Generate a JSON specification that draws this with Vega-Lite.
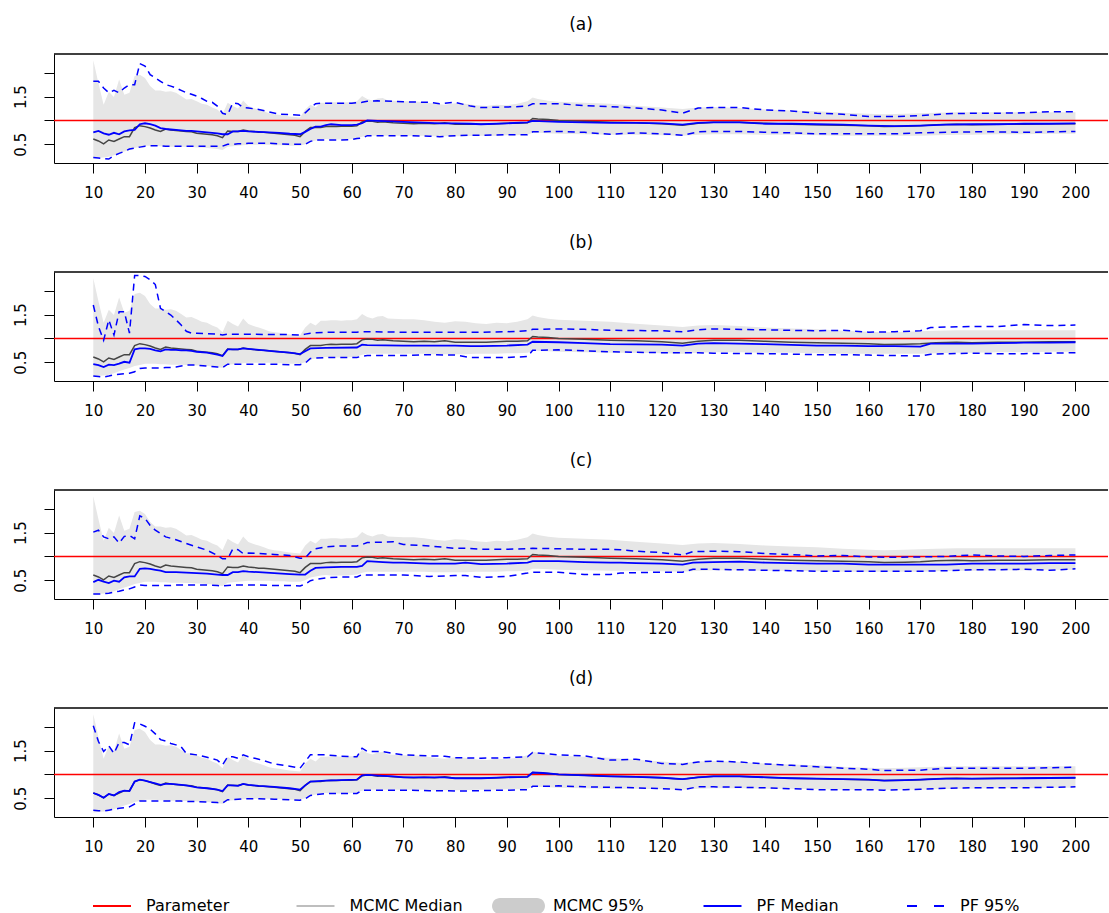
{
"$schema": "https://vega.github.io/schema/vega-lite/v6.json",
"background": "white",
"padding": {"top": 16, "left": 9, "right": 0, "bottom": 0},
"datasets": {
"param": [{"value": 1}],
"mcmc": [
{"t":10,"lo":0.20,"med":0.61,"hi":2.26},{"t":11,"lo":0.21,"med":0.57,"hi":1.78},{"t":12,"lo":0.22,"med":0.51,"hi":1.33},{"t":13,"lo":0.24,"med":0.59,"hi":1.60},{"t":14,"lo":0.27,"med":0.56,"hi":1.49},{"t":15,"lo":0.31,"med":0.61,"hi":1.86},{"t":16,"lo":0.35,"med":0.66,"hi":1.54},{"t":17,"lo":0.38,"med":0.66,"hi":1.58},{"t":18,"lo":0.42,"med":0.85,"hi":1.93},{"t":19,"lo":0.44,"med":0.89,"hi":1.96},
{"t":20,"lo":0.47,"med":0.87,"hi":1.89},{"t":21,"lo":0.47,"med":0.84,"hi":1.72},{"t":22,"lo":0.47,"med":0.80,"hi":1.63},{"t":23,"lo":0.46,"med":0.77,"hi":1.63},{"t":24,"lo":0.46,"med":0.82,"hi":1.60},{"t":25,"lo":0.45,"med":0.80,"hi":1.61},{"t":26,"lo":0.45,"med":0.79,"hi":1.58},{"t":27,"lo":0.45,"med":0.78,"hi":1.51},{"t":28,"lo":0.44,"med":0.77,"hi":1.44},{"t":29,"lo":0.44,"med":0.76,"hi":1.45},
{"t":30,"lo":0.43,"med":0.73,"hi":1.40},{"t":31,"lo":0.43,"med":0.72,"hi":1.35},{"t":32,"lo":0.42,"med":0.71,"hi":1.33},{"t":33,"lo":0.41,"med":0.70,"hi":1.27},{"t":34,"lo":0.40,"med":0.68,"hi":1.23},{"t":35,"lo":0.38,"med":0.64,"hi":1.13},{"t":36,"lo":0.45,"med":0.78,"hi":1.37},{"t":37,"lo":0.46,"med":0.77,"hi":1.30},{"t":38,"lo":0.47,"med":0.77,"hi":1.25},{"t":39,"lo":0.48,"med":0.80,"hi":1.42},
{"t":40,"lo":0.49,"med":0.78,"hi":1.30},{"t":41,"lo":0.49,"med":0.77,"hi":1.26},{"t":42,"lo":0.49,"med":0.75,"hi":1.23},{"t":43,"lo":0.49,"med":0.75,"hi":1.19},{"t":44,"lo":0.49,"med":0.74,"hi":1.15},{"t":45,"lo":0.48,"med":0.73,"hi":1.13},{"t":46,"lo":0.48,"med":0.72,"hi":1.12},{"t":47,"lo":0.48,"med":0.71,"hi":1.10},{"t":48,"lo":0.47,"med":0.70,"hi":1.08},{"t":49,"lo":0.47,"med":0.69,"hi":1.07},
{"t":50,"lo":0.47,"med":0.66,"hi":1.06},{"t":51,"lo":0.50,"med":0.77,"hi":1.23},{"t":52,"lo":0.56,"med":0.85,"hi":1.33},{"t":53,"lo":0.58,"med":0.85,"hi":1.27},{"t":54,"lo":0.60,"med":0.85,"hi":1.37},{"t":55,"lo":0.61,"med":0.87,"hi":1.37},{"t":56,"lo":0.60,"med":0.88,"hi":1.38},{"t":57,"lo":0.60,"med":0.87,"hi":1.38},{"t":58,"lo":0.60,"med":0.88,"hi":1.37},{"t":59,"lo":0.60,"med":0.88,"hi":1.38},
{"t":60,"lo":0.61,"med":0.88,"hi":1.38},{"t":61,"lo":0.62,"med":0.89,"hi":1.40},{"t":62,"lo":0.66,"med":0.97,"hi":1.51},{"t":63,"lo":0.68,"med":0.99,"hi":1.45},{"t":64,"lo":0.68,"med":0.98,"hi":1.42},{"t":65,"lo":0.68,"med":0.96,"hi":1.46},{"t":66,"lo":0.68,"med":0.97,"hi":1.47},{"t":67,"lo":0.68,"med":0.96,"hi":1.42},{"t":68,"lo":0.68,"med":0.95,"hi":1.41},{"t":70,"lo":0.68,"med":0.94,"hi":1.40},
{"t":72,"lo":0.68,"med":0.93,"hi":1.40},{"t":74,"lo":0.68,"med":0.94,"hi":1.38},{"t":76,"lo":0.67,"med":0.93,"hi":1.35},{"t":78,"lo":0.67,"med":0.95,"hi":1.33},{"t":80,"lo":0.67,"med":0.92,"hi":1.36},{"t":82,"lo":0.67,"med":0.92,"hi":1.35},{"t":84,"lo":0.68,"med":0.92,"hi":1.32},{"t":86,"lo":0.68,"med":0.92,"hi":1.30},{"t":88,"lo":0.68,"med":0.93,"hi":1.33},{"t":90,"lo":0.69,"med":0.94,"hi":1.32},
{"t":92,"lo":0.69,"med":0.94,"hi":1.35},{"t":94,"lo":0.70,"med":0.95,"hi":1.40},{"t":95,"lo":0.74,"med":1.04,"hi":1.48},{"t":96,"lo":0.74,"med":1.03,"hi":1.45},{"t":98,"lo":0.73,"med":1.02,"hi":1.41},{"t":100,"lo":0.72,"med":1.00,"hi":1.39},{"t":105,"lo":0.71,"med":0.98,"hi":1.37},{"t":110,"lo":0.70,"med":0.96,"hi":1.35},{"t":115,"lo":0.70,"med":0.95,"hi":1.31},{"t":120,"lo":0.69,"med":0.93,"hi":1.27},
{"t":124,"lo":0.68,"med":0.90,"hi":1.24},{"t":127,"lo":0.70,"med":0.94,"hi":1.27},{"t":130,"lo":0.71,"med":0.96,"hi":1.28},{"t":135,"lo":0.71,"med":0.96,"hi":1.26},{"t":140,"lo":0.70,"med":0.94,"hi":1.23},{"t":145,"lo":0.70,"med":0.92,"hi":1.21},{"t":150,"lo":0.69,"med":0.91,"hi":1.19},{"t":155,"lo":0.68,"med":0.90,"hi":1.16},{"t":160,"lo":0.68,"med":0.89,"hi":1.14},{"t":163,"lo":0.68,"med":0.87,"hi":1.13},
{"t":167,"lo":0.68,"med":0.88,"hi":1.14},{"t":170,"lo":0.68,"med":0.89,"hi":1.15},{"t":173,"lo":0.69,"med":0.91,"hi":1.16},{"t":177,"lo":0.70,"med":0.92,"hi":1.17},{"t":180,"lo":0.70,"med":0.91,"hi":1.17},{"t":185,"lo":0.71,"med":0.92,"hi":1.17},{"t":190,"lo":0.71,"med":0.92,"hi":1.17},{"t":195,"lo":0.72,"med":0.93,"hi":1.17},{"t":200,"lo":0.72,"med":0.93,"hi":1.17}
],
"pf": [
{"p":"a","t":10,"lo":0.22,"med":0.75,"hi":1.82},{"p":"a","t":11,"lo":0.21,"med":0.78,"hi":1.82},{"p":"a","t":12,"lo":0.20,"med":0.73,"hi":1.68},{"p":"a","t":13,"lo":0.19,"med":0.70,"hi":1.58},{"p":"a","t":14,"lo":0.26,"med":0.74,"hi":1.63},{"p":"a","t":15,"lo":0.31,"med":0.71,"hi":1.58},{"p":"a","t":16,"lo":0.35,"med":0.77,"hi":1.68},{"p":"a","t":17,"lo":0.40,"med":0.79,"hi":1.75},{"p":"a","t":18,"lo":0.42,"med":0.80,"hi":1.75},{"p":"a","t":19,"lo":0.44,"med":0.92,"hi":2.19},
{"p":"a","t":20,"lo":0.46,"med":0.94,"hi":2.14},{"p":"a","t":21,"lo":0.47,"med":0.92,"hi":1.96},{"p":"a","t":22,"lo":0.47,"med":0.89,"hi":1.89},{"p":"a","t":23,"lo":0.47,"med":0.84,"hi":1.82},{"p":"a","t":24,"lo":0.46,"med":0.82,"hi":1.75},{"p":"a","t":25,"lo":0.46,"med":0.81,"hi":1.72},{"p":"a","t":26,"lo":0.46,"med":0.80,"hi":1.68},{"p":"a","t":27,"lo":0.46,"med":0.79,"hi":1.63},{"p":"a","t":28,"lo":0.46,"med":0.78,"hi":1.58},{"p":"a","t":29,"lo":0.46,"med":0.78,"hi":1.55},
{"p":"a","t":30,"lo":0.46,"med":0.77,"hi":1.51},{"p":"a","t":31,"lo":0.46,"med":0.76,"hi":1.46},{"p":"a","t":32,"lo":0.46,"med":0.75,"hi":1.40},{"p":"a","t":33,"lo":0.46,"med":0.74,"hi":1.38},{"p":"a","t":34,"lo":0.46,"med":0.73,"hi":1.30},{"p":"a","t":35,"lo":0.46,"med":0.71,"hi":1.15},{"p":"a","t":36,"lo":0.50,"med":0.71,"hi":1.12},{"p":"a","t":37,"lo":0.50,"med":0.77,"hi":1.37},{"p":"a","t":38,"lo":0.51,"med":0.77,"hi":1.35},{"p":"a","t":39,"lo":0.51,"med":0.78,"hi":1.27},
{"p":"a","t":40,"lo":0.52,"med":0.77,"hi":1.26},{"p":"a","t":42,"lo":0.52,"med":0.76,"hi":1.23},{"p":"a","t":44,"lo":0.52,"med":0.75,"hi":1.18},{"p":"a","t":46,"lo":0.51,"med":0.74,"hi":1.13},{"p":"a","t":48,"lo":0.50,"med":0.72,"hi":1.12},{"p":"a","t":50,"lo":0.50,"med":0.71,"hi":1.11},{"p":"a","t":51,"lo":0.50,"med":0.76,"hi":1.16},{"p":"a","t":52,"lo":0.56,"med":0.82,"hi":1.26},{"p":"a","t":53,"lo":0.59,"med":0.87,"hi":1.35},{"p":"a","t":54,"lo":0.59,"med":0.87,"hi":1.36},
{"p":"a","t":55,"lo":0.59,"med":0.90,"hi":1.36},{"p":"a","t":56,"lo":0.59,"med":0.92,"hi":1.36},{"p":"a","t":58,"lo":0.59,"med":0.90,"hi":1.36},{"p":"a","t":60,"lo":0.60,"med":0.90,"hi":1.36},{"p":"a","t":61,"lo":0.62,"med":0.91,"hi":1.37},{"p":"a","t":62,"lo":0.63,"med":0.94,"hi":1.38},{"p":"a","t":63,"lo":0.68,"med":1.00,"hi":1.40},{"p":"a","t":65,"lo":0.68,"med":0.99,"hi":1.41},{"p":"a","t":68,"lo":0.68,"med":0.98,"hi":1.40},{"p":"a","t":70,"lo":0.68,"med":0.97,"hi":1.39},
{"p":"a","t":75,"lo":0.67,"med":0.95,"hi":1.38},{"p":"a","t":77,"lo":0.66,"med":0.94,"hi":1.35},{"p":"a","t":80,"lo":0.68,"med":0.94,"hi":1.38},{"p":"a","t":83,"lo":0.69,"med":0.93,"hi":1.30},{"p":"a","t":85,"lo":0.69,"med":0.92,"hi":1.27},{"p":"a","t":90,"lo":0.70,"med":0.94,"hi":1.28},{"p":"a","t":94,"lo":0.70,"med":0.96,"hi":1.30},{"p":"a","t":95,"lo":0.76,"med":0.99,"hi":1.35},{"p":"a","t":100,"lo":0.77,"med":0.97,"hi":1.35},{"p":"a","t":105,"lo":0.75,"med":0.96,"hi":1.31},
{"p":"a","t":110,"lo":0.71,"med":0.95,"hi":1.29},{"p":"a","t":115,"lo":0.74,"med":0.95,"hi":1.26},{"p":"a","t":120,"lo":0.72,"med":0.94,"hi":1.22},{"p":"a","t":124,"lo":0.69,"med":0.91,"hi":1.15},{"p":"a","t":127,"lo":0.76,"med":0.95,"hi":1.26},{"p":"a","t":130,"lo":0.77,"med":0.96,"hi":1.27},{"p":"a","t":135,"lo":0.77,"med":0.96,"hi":1.27},{"p":"a","t":140,"lo":0.75,"med":0.93,"hi":1.22},{"p":"a","t":145,"lo":0.74,"med":0.93,"hi":1.20},{"p":"a","t":150,"lo":0.72,"med":0.92,"hi":1.15},
{"p":"a","t":155,"lo":0.72,"med":0.91,"hi":1.13},{"p":"a","t":160,"lo":0.72,"med":0.89,"hi":1.08},{"p":"a","t":165,"lo":0.72,"med":0.88,"hi":1.08},{"p":"a","t":170,"lo":0.74,"med":0.89,"hi":1.10},{"p":"a","t":175,"lo":0.75,"med":0.91,"hi":1.14},{"p":"a","t":180,"lo":0.76,"med":0.92,"hi":1.15},{"p":"a","t":185,"lo":0.76,"med":0.92,"hi":1.15},{"p":"a","t":190,"lo":0.75,"med":0.93,"hi":1.16},{"p":"a","t":195,"lo":0.76,"med":0.93,"hi":1.18},{"p":"a","t":200,"lo":0.77,"med":0.94,"hi":1.18},

{"p":"b","t":10,"lo":0.21,"med":0.46,"hi":1.70},{"p":"b","t":11,"lo":0.20,"med":0.44,"hi":1.25},{"p":"b","t":12,"lo":0.19,"med":0.40,"hi":0.96},{"p":"b","t":13,"lo":0.21,"med":0.45,"hi":1.39},{"p":"b","t":14,"lo":0.24,"med":0.44,"hi":1.07},{"p":"b","t":15,"lo":0.25,"med":0.47,"hi":1.56},{"p":"b","t":16,"lo":0.26,"med":0.51,"hi":1.56},{"p":"b","t":17,"lo":0.27,"med":0.49,"hi":1.11},{"p":"b","t":18,"lo":0.30,"med":0.77,"hi":2.32},{"p":"b","t":19,"lo":0.37,"med":0.79,"hi":2.32},
{"p":"b","t":20,"lo":0.38,"med":0.79,"hi":2.30},{"p":"b","t":21,"lo":0.38,"med":0.78,"hi":2.23},{"p":"b","t":22,"lo":0.38,"med":0.75,"hi":2.13},{"p":"b","t":23,"lo":0.38,"med":0.73,"hi":1.63},{"p":"b","t":24,"lo":0.39,"med":0.77,"hi":1.56},{"p":"b","t":25,"lo":0.39,"med":0.76,"hi":1.49},{"p":"b","t":26,"lo":0.40,"med":0.76,"hi":1.39},{"p":"b","t":27,"lo":0.42,"med":0.75,"hi":1.28},{"p":"b","t":28,"lo":0.44,"med":0.75,"hi":1.15},{"p":"b","t":29,"lo":0.44,"med":0.74,"hi":1.11},
{"p":"b","t":30,"lo":0.44,"med":0.72,"hi":1.11},{"p":"b","t":32,"lo":0.42,"med":0.70,"hi":1.10},{"p":"b","t":34,"lo":0.40,"med":0.66,"hi":1.09},{"p":"b","t":35,"lo":0.39,"med":0.63,"hi":1.07},{"p":"b","t":36,"lo":0.46,"med":0.77,"hi":1.09},{"p":"b","t":38,"lo":0.46,"med":0.77,"hi":1.09},{"p":"b","t":39,"lo":0.46,"med":0.79,"hi":1.09},{"p":"b","t":40,"lo":0.46,"med":0.78,"hi":1.09},{"p":"b","t":45,"lo":0.46,"med":0.73,"hi":1.08},{"p":"b","t":48,"lo":0.45,"med":0.70,"hi":1.08},
{"p":"b","t":50,"lo":0.45,"med":0.67,"hi":1.07},{"p":"b","t":51,"lo":0.48,"med":0.73,"hi":1.09},{"p":"b","t":52,"lo":0.58,"med":0.79,"hi":1.11},{"p":"b","t":55,"lo":0.60,"med":0.80,"hi":1.13},{"p":"b","t":61,"lo":0.60,"med":0.81,"hi":1.13},{"p":"b","t":62,"lo":0.63,"med":0.87,"hi":1.14},{"p":"b","t":63,"lo":0.64,"med":0.86,"hi":1.14},{"p":"b","t":70,"lo":0.64,"med":0.85,"hi":1.13},{"p":"b","t":75,"lo":0.66,"med":0.85,"hi":1.13},{"p":"b","t":80,"lo":0.65,"med":0.85,"hi":1.13},
{"p":"b","t":83,"lo":0.60,"med":0.84,"hi":1.13},{"p":"b","t":85,"lo":0.60,"med":0.84,"hi":1.13},{"p":"b","t":90,"lo":0.60,"med":0.85,"hi":1.14},{"p":"b","t":94,"lo":0.62,"med":0.87,"hi":1.16},{"p":"b","t":95,"lo":0.75,"med":0.93,"hi":1.19},{"p":"b","t":100,"lo":0.76,"med":0.92,"hi":1.20},{"p":"b","t":105,"lo":0.74,"med":0.90,"hi":1.19},{"p":"b","t":110,"lo":0.72,"med":0.88,"hi":1.17},{"p":"b","t":120,"lo":0.70,"med":0.87,"hi":1.16},{"p":"b","t":124,"lo":0.70,"med":0.85,"hi":1.14},
{"p":"b","t":127,"lo":0.70,"med":0.89,"hi":1.18},{"p":"b","t":130,"lo":0.69,"med":0.90,"hi":1.20},{"p":"b","t":140,"lo":0.68,"med":0.88,"hi":1.18},{"p":"b","t":150,"lo":0.66,"med":0.85,"hi":1.16},{"p":"b","t":155,"lo":0.66,"med":0.85,"hi":1.17},{"p":"b","t":160,"lo":0.65,"med":0.84,"hi":1.13},{"p":"b","t":165,"lo":0.64,"med":0.84,"hi":1.14},{"p":"b","t":170,"lo":0.63,"med":0.83,"hi":1.16},{"p":"b","t":172,"lo":0.67,"med":0.89,"hi":1.23},{"p":"b","t":180,"lo":0.69,"med":0.89,"hi":1.25},
{"p":"b","t":185,"lo":0.68,"med":0.90,"hi":1.25},{"p":"b","t":190,"lo":0.68,"med":0.91,"hi":1.29},{"p":"b","t":195,"lo":0.69,"med":0.91,"hi":1.27},{"p":"b","t":200,"lo":0.70,"med":0.92,"hi":1.28},

{"p":"c","t":10,"lo":0.21,"med":0.46,"hi":1.51},{"p":"c","t":11,"lo":0.21,"med":0.51,"hi":1.55},{"p":"c","t":12,"lo":0.22,"med":0.47,"hi":1.41},{"p":"c","t":13,"lo":0.23,"med":0.44,"hi":1.37},{"p":"c","t":14,"lo":0.25,"med":0.49,"hi":1.41},{"p":"c","t":15,"lo":0.27,"med":0.47,"hi":1.28},{"p":"c","t":16,"lo":0.30,"med":0.56,"hi":1.42},{"p":"c","t":17,"lo":0.32,"med":0.58,"hi":1.44},{"p":"c","t":18,"lo":0.36,"med":0.58,"hi":1.37},{"p":"c","t":19,"lo":0.40,"med":0.74,"hi":1.85},
{"p":"c","t":20,"lo":0.39,"med":0.75,"hi":1.80},{"p":"c","t":21,"lo":0.39,"med":0.74,"hi":1.65},{"p":"c","t":22,"lo":0.39,"med":0.72,"hi":1.55},{"p":"c","t":23,"lo":0.39,"med":0.70,"hi":1.48},{"p":"c","t":24,"lo":0.39,"med":0.67,"hi":1.41},{"p":"c","t":25,"lo":0.39,"med":0.67,"hi":1.38},{"p":"c","t":26,"lo":0.40,"med":0.67,"hi":1.35},{"p":"c","t":28,"lo":0.40,"med":0.66,"hi":1.27},{"p":"c","t":30,"lo":0.40,"med":0.65,"hi":1.20},{"p":"c","t":32,"lo":0.40,"med":0.64,"hi":1.13},
{"p":"c","t":34,"lo":0.39,"med":0.62,"hi":1.02},{"p":"c","t":35,"lo":0.38,"med":0.61,"hi":0.95},{"p":"c","t":36,"lo":0.39,"med":0.61,"hi":0.95},{"p":"c","t":37,"lo":0.40,"med":0.67,"hi":1.16},{"p":"c","t":38,"lo":0.40,"med":0.67,"hi":1.14},{"p":"c","t":39,"lo":0.40,"med":0.69,"hi":1.06},{"p":"c","t":40,"lo":0.40,"med":0.68,"hi":1.07},{"p":"c","t":42,"lo":0.40,"med":0.67,"hi":1.06},{"p":"c","t":45,"lo":0.39,"med":0.65,"hi":1.04},{"p":"c","t":48,"lo":0.39,"med":0.63,"hi":1.02},
{"p":"c","t":50,"lo":0.38,"med":0.62,"hi":0.96},{"p":"c","t":51,"lo":0.42,"med":0.62,"hi":0.97},{"p":"c","t":52,"lo":0.49,"med":0.70,"hi":1.09},{"p":"c","t":53,"lo":0.52,"med":0.76,"hi":1.16},{"p":"c","t":55,"lo":0.55,"med":0.77,"hi":1.20},{"p":"c","t":58,"lo":0.57,"med":0.78,"hi":1.22},{"p":"c","t":61,"lo":0.57,"med":0.78,"hi":1.22},{"p":"c","t":62,"lo":0.62,"med":0.80,"hi":1.25},{"p":"c","t":63,"lo":0.61,"med":0.90,"hi":1.29},{"p":"c","t":66,"lo":0.61,"med":0.88,"hi":1.30},
{"p":"c","t":68,"lo":0.61,"med":0.87,"hi":1.31},{"p":"c","t":70,"lo":0.61,"med":0.87,"hi":1.25},{"p":"c","t":75,"lo":0.58,"med":0.85,"hi":1.22},{"p":"c","t":80,"lo":0.60,"med":0.85,"hi":1.17},{"p":"c","t":82,"lo":0.60,"med":0.87,"hi":1.17},{"p":"c","t":85,"lo":0.56,"med":0.84,"hi":1.15},{"p":"c","t":90,"lo":0.58,"med":0.85,"hi":1.15},{"p":"c","t":94,"lo":0.65,"med":0.87,"hi":1.16},{"p":"c","t":95,"lo":0.67,"med":0.90,"hi":1.17},{"p":"c","t":100,"lo":0.67,"med":0.90,"hi":1.16},
{"p":"c","t":105,"lo":0.62,"med":0.88,"hi":1.15},{"p":"c","t":110,"lo":0.62,"med":0.87,"hi":1.15},{"p":"c","t":112,"lo":0.65,"med":0.87,"hi":1.14},{"p":"c","t":115,"lo":0.66,"med":0.86,"hi":1.11},{"p":"c","t":120,"lo":0.67,"med":0.85,"hi":1.08},{"p":"c","t":124,"lo":0.67,"med":0.83,"hi":1.03},{"p":"c","t":126,"lo":0.73,"med":0.87,"hi":1.10},{"p":"c","t":130,"lo":0.73,"med":0.88,"hi":1.11},{"p":"c","t":135,"lo":0.72,"med":0.89,"hi":1.10},{"p":"c","t":140,"lo":0.71,"med":0.87,"hi":1.06},
{"p":"c","t":145,"lo":0.70,"med":0.86,"hi":1.04},{"p":"c","t":150,"lo":0.69,"med":0.85,"hi":1.01},{"p":"c","t":155,"lo":0.69,"med":0.85,"hi":1.02},{"p":"c","t":160,"lo":0.69,"med":0.83,"hi":0.99},{"p":"c","t":165,"lo":0.69,"med":0.83,"hi":0.98},{"p":"c","t":170,"lo":0.69,"med":0.83,"hi":0.99},{"p":"c","t":175,"lo":0.70,"med":0.83,"hi":1.00},{"p":"c","t":180,"lo":0.72,"med":0.85,"hi":1.03},{"p":"c","t":185,"lo":0.72,"med":0.85,"hi":1.01},{"p":"c","t":190,"lo":0.73,"med":0.85,"hi":1.00},
{"p":"c","t":195,"lo":0.71,"med":0.86,"hi":1.02},{"p":"c","t":200,"lo":0.74,"med":0.86,"hi":1.03},

{"p":"d","t":10,"lo":0.25,"med":0.61,"hi":2.02},{"p":"d","t":11,"lo":0.24,"med":0.57,"hi":1.69},{"p":"d","t":12,"lo":0.23,"med":0.51,"hi":1.48},{"p":"d","t":13,"lo":0.25,"med":0.59,"hi":1.60},{"p":"d","t":14,"lo":0.27,"med":0.56,"hi":1.44},{"p":"d","t":15,"lo":0.29,"med":0.63,"hi":1.67},{"p":"d","t":16,"lo":0.30,"med":0.66,"hi":1.67},{"p":"d","t":17,"lo":0.32,"med":0.65,"hi":1.62},{"p":"d","t":18,"lo":0.38,"med":0.85,"hi":2.08},{"p":"d","t":19,"lo":0.44,"med":0.89,"hi":2.06},
{"p":"d","t":20,"lo":0.44,"med":0.87,"hi":2.01},{"p":"d","t":21,"lo":0.44,"med":0.84,"hi":1.95},{"p":"d","t":22,"lo":0.44,"med":0.81,"hi":1.85},{"p":"d","t":23,"lo":0.44,"med":0.78,"hi":1.73},{"p":"d","t":24,"lo":0.44,"med":0.80,"hi":1.70},{"p":"d","t":25,"lo":0.44,"med":0.80,"hi":1.65},{"p":"d","t":26,"lo":0.44,"med":0.79,"hi":1.62},{"p":"d","t":27,"lo":0.44,"med":0.78,"hi":1.58},{"p":"d","t":28,"lo":0.43,"med":0.77,"hi":1.44},{"p":"d","t":30,"lo":0.43,"med":0.73,"hi":1.41},
{"p":"d","t":32,"lo":0.42,"med":0.71,"hi":1.36},{"p":"d","t":34,"lo":0.41,"med":0.68,"hi":1.30},{"p":"d","t":35,"lo":0.40,"med":0.65,"hi":1.20},{"p":"d","t":36,"lo":0.47,"med":0.77,"hi":1.37},{"p":"d","t":37,"lo":0.47,"med":0.77,"hi":1.37},{"p":"d","t":38,"lo":0.48,"med":0.76,"hi":1.34},{"p":"d","t":39,"lo":0.49,"med":0.80,"hi":1.41},{"p":"d","t":40,"lo":0.49,"med":0.78,"hi":1.37},{"p":"d","t":42,"lo":0.49,"med":0.76,"hi":1.32},{"p":"d","t":45,"lo":0.48,"med":0.74,"hi":1.22},
{"p":"d","t":48,"lo":0.47,"med":0.71,"hi":1.17},{"p":"d","t":50,"lo":0.46,"med":0.68,"hi":1.13},{"p":"d","t":51,"lo":0.49,"med":0.77,"hi":1.27},{"p":"d","t":52,"lo":0.56,"med":0.85,"hi":1.41},{"p":"d","t":55,"lo":0.60,"med":0.87,"hi":1.41},{"p":"d","t":58,"lo":0.60,"med":0.88,"hi":1.38},{"p":"d","t":61,"lo":0.60,"med":0.89,"hi":1.37},{"p":"d","t":62,"lo":0.67,"med":0.98,"hi":1.55},{"p":"d","t":63,"lo":0.67,"med":0.99,"hi":1.48},{"p":"d","t":66,"lo":0.67,"med":0.97,"hi":1.48},
{"p":"d","t":68,"lo":0.67,"med":0.96,"hi":1.44},{"p":"d","t":70,"lo":0.67,"med":0.94,"hi":1.41},{"p":"d","t":75,"lo":0.66,"med":0.94,"hi":1.39},{"p":"d","t":78,"lo":0.66,"med":0.94,"hi":1.38},{"p":"d","t":80,"lo":0.65,"med":0.92,"hi":1.35},{"p":"d","t":85,"lo":0.66,"med":0.92,"hi":1.34},{"p":"d","t":90,"lo":0.67,"med":0.94,"hi":1.35},{"p":"d","t":94,"lo":0.68,"med":0.95,"hi":1.37},{"p":"d","t":95,"lo":0.75,"med":1.04,"hi":1.46},{"p":"d","t":97,"lo":0.75,"med":1.03,"hi":1.44},
{"p":"d","t":100,"lo":0.76,"med":1.00,"hi":1.41},{"p":"d","t":105,"lo":0.74,"med":0.98,"hi":1.39},{"p":"d","t":110,"lo":0.73,"med":0.96,"hi":1.30},{"p":"d","t":115,"lo":0.72,"med":0.95,"hi":1.32},{"p":"d","t":120,"lo":0.70,"med":0.93,"hi":1.23},{"p":"d","t":124,"lo":0.68,"med":0.90,"hi":1.21},{"p":"d","t":127,"lo":0.74,"med":0.94,"hi":1.26},{"p":"d","t":130,"lo":0.74,"med":0.96,"hi":1.28},{"p":"d","t":135,"lo":0.73,"med":0.96,"hi":1.26},{"p":"d","t":140,"lo":0.72,"med":0.94,"hi":1.22},
{"p":"d","t":145,"lo":0.70,"med":0.92,"hi":1.19},{"p":"d","t":150,"lo":0.68,"med":0.91,"hi":1.16},{"p":"d","t":155,"lo":0.68,"med":0.90,"hi":1.13},{"p":"d","t":160,"lo":0.68,"med":0.89,"hi":1.11},{"p":"d","t":163,"lo":0.67,"med":0.87,"hi":1.08},{"p":"d","t":167,"lo":0.68,"med":0.88,"hi":1.09},{"p":"d","t":170,"lo":0.69,"med":0.89,"hi":1.09},{"p":"d","t":175,"lo":0.71,"med":0.91,"hi":1.13},{"p":"d","t":180,"lo":0.72,"med":0.91,"hi":1.13},{"p":"d","t":190,"lo":0.72,"med":0.92,"hi":1.13},
{"p":"d","t":200,"lo":0.74,"med":0.93,"hi":1.15}
]
},
"config": {
"font": "DejaVu Sans",
"view": {"stroke": null},
"title": {"fontSize": 17, "fontWeight": "normal", "color": "black", "offset": 19, "anchor": "middle", "frame": "group", "font": "DejaVu Sans"},
"axis": {"grid": false, "domainColor": "black", "tickColor": "black", "labelColor": "black", "labelFont": "DejaVu Sans", "labelFontSize": 15, "tickSize": 10, "domainWidth": 1, "tickWidth": 1, "labelFlush": false, "labelOverlap": false},
"concat": {"spacing": 33}
},
"vconcat": [
{"title": "(a)", "width": 1054, "height": 109,
"resolve": {"axis": {"y": "independent"}},
"layer": [
{"data": {"name": "mcmc"}, "mark": {"type": "area", "color": "#e6e6e6"},
 "encoding": {"x": {"field": "t", "type": "quantitative", "title": null, "scale": {"domain": [2.4, 206.3], "nice": false, "zero": false}, "axis": {"values": [10,20,30,40,50,60,70,80,90,100,110,120,130,140,150,160,170,180,190,200], "labelPadding": 12, "labelOverlap": false, "minExtent": 38, "maxExtent": 38, "title": null}},
  "y": {"field": "lo", "type": "quantitative", "title": null, "scale": {"domain": [0.107, 2.393], "nice": false, "zero": false}, "axis": {"orient": "left", "values": [0.5, 1.5], "format": ".1f", "labelAngle": 270, "labelAlign": "center", "labelBaseline": "bottom", "labelPadding": 16, "labelOverlap": false, "minExtent": 45, "maxExtent": 45, "title": null}},
  "y2": {"field": "hi"}}},
{"data": {"name": "param"}, "mark": {"type": "rule", "strokeWidth": 1.5},
 "encoding": {"y": {"field": "value", "type": "quantitative", "title": null, "axis": null, "scale": {"domain": [0.107, 2.393], "nice": false, "zero": false}},
  "color": {"datum": "Parameter", "type": "nominal", "scale": {"domain": ["Parameter", "MCMC Median", "MCMC 95%", "PF Median", "PF 95%"], "range": ["#ff0000", "#bebebe", "#cccccc", "#0000ff", "#0000ff"]},
   "legend": {"orient": "none", "legendX": 31, "legendY": 844, "direction": "horizontal", "columns": 5, "gridAlign": "all", "columnPadding": 28.5, "title": null, "symbolType": "M0,0L4,0", "symbolSize": 361, "symbolStrokeWidth": 2, "labelOffset": 45, "labelFontSize": 16, "labelFont": "DejaVu Sans", "labelColor": "black", "labelLimit": 400,
    "encode": {"symbols": {"update": {
      "shape": {"signal": "datum.value === 'MCMC 95%' ? 'M0,-0.842L3.895,-0.842A0.842,0.842,0,0,1,3.895,0.842L0,0.842A0.842,0.842,0,0,1,0,-0.842Z' : 'M0,0L4,0'"},
      "fill": {"signal": "datum.value === 'MCMC 95%' ? '#cccccc' : 'transparent'"},
      "strokeWidth": {"signal": "datum.value === 'MCMC 95%' ? 0 : 2"},
      "strokeDash": {"signal": "datum.value === 'PF 95%' ? [10, 17] : [1, 0]"},
      "opacity": {"value": 1}}}}}}}},
{"data": {"name": "mcmc"}, "mark": {"type": "line", "color": "#454545", "strokeWidth": 1.5},
 "encoding": {"x": {"field": "t", "type": "quantitative", "title": null, "scale": {"domain": [2.4, 206.3], "nice": false, "zero": false}}, "y": {"field": "med", "type": "quantitative", "title": null, "axis": null, "scale": {"domain": [0.107, 2.393], "nice": false, "zero": false}}}},
{"data": {"name": "pf"}, "transform": [{"filter": "datum.p === 'a'"}], "mark": {"type": "line", "color": "#0000ff", "strokeWidth": 1.8},
 "encoding": {"x": {"field": "t", "type": "quantitative", "title": null, "scale": {"domain": [2.4, 206.3], "nice": false, "zero": false}}, "y": {"field": "med", "type": "quantitative", "title": null, "axis": null, "scale": {"domain": [0.107, 2.393], "nice": false, "zero": false}}}},
{"data": {"name": "pf"}, "transform": [{"filter": "datum.p === 'a'"}], "mark": {"type": "line", "color": "#0000ff", "strokeWidth": 1.5, "strokeDash": [7, 5]},
 "encoding": {"x": {"field": "t", "type": "quantitative", "title": null, "scale": {"domain": [2.4, 206.3], "nice": false, "zero": false}}, "y": {"field": "lo", "type": "quantitative", "title": null, "axis": null, "scale": {"domain": [0.107, 2.393], "nice": false, "zero": false}}}},
{"data": {"name": "pf"}, "transform": [{"filter": "datum.p === 'a'"}], "mark": {"type": "line", "color": "#0000ff", "strokeWidth": 1.5, "strokeDash": [7, 5]},
 "encoding": {"x": {"field": "t", "type": "quantitative", "title": null, "scale": {"domain": [2.4, 206.3], "nice": false, "zero": false}}, "y": {"field": "hi", "type": "quantitative", "title": null, "axis": null, "scale": {"domain": [0.107, 2.393], "nice": false, "zero": false}}}},
{"data": {"name": "param"}, "mark": {"type": "rule", "color": "black", "strokeWidth": 1.3},
 "encoding": {"y": {"datum": 2.393, "type": "quantitative", "title": null, "scale": {"domain": [0.107, 2.393], "nice": false, "zero": false}, "axis": {"orient": "left", "values": [1, 2], "labels": false, "domain": false, "minExtent": 45, "maxExtent": 45, "title": null}}}}
]},
{"title": "(b)", "width": 1054, "height": 109,
"resolve": {"axis": {"y": "independent"}},
"layer": [
{"data": {"name": "mcmc"}, "mark": {"type": "area", "color": "#e6e6e6"},
 "encoding": {"x": {"field": "t", "type": "quantitative", "title": null, "scale": {"domain": [2.4, 206.3], "nice": false, "zero": false}, "axis": {"values": [10,20,30,40,50,60,70,80,90,100,110,120,130,140,150,160,170,180,190,200], "labelPadding": 12, "labelOverlap": false, "minExtent": 38, "maxExtent": 38, "title": null}},
  "y": {"field": "lo", "type": "quantitative", "title": null, "scale": {"domain": [0.107, 2.393], "nice": false, "zero": false}, "axis": {"orient": "left", "values": [0.5, 1.5], "format": ".1f", "labelAngle": 270, "labelAlign": "center", "labelBaseline": "bottom", "labelPadding": 16, "labelOverlap": false, "minExtent": 45, "maxExtent": 45, "title": null}},
  "y2": {"field": "hi"}}},
{"data": {"name": "param"}, "mark": {"type": "rule", "strokeWidth": 1.5},
 "encoding": {"y": {"field": "value", "type": "quantitative", "title": null, "axis": null, "scale": {"domain": [0.107, 2.393], "nice": false, "zero": false}},
  "color": {"datum": "Parameter", "type": "nominal", "scale": {"domain": ["Parameter", "MCMC Median", "MCMC 95%", "PF Median", "PF 95%"], "range": ["#ff0000", "#bebebe", "#cccccc", "#0000ff", "#0000ff"]}}}},
{"data": {"name": "mcmc"}, "mark": {"type": "line", "color": "#454545", "strokeWidth": 1.5},
 "encoding": {"x": {"field": "t", "type": "quantitative", "title": null, "scale": {"domain": [2.4, 206.3], "nice": false, "zero": false}}, "y": {"field": "med", "type": "quantitative", "title": null, "axis": null, "scale": {"domain": [0.107, 2.393], "nice": false, "zero": false}}}},
{"data": {"name": "pf"}, "transform": [{"filter": "datum.p === 'b'"}], "mark": {"type": "line", "color": "#0000ff", "strokeWidth": 1.8},
 "encoding": {"x": {"field": "t", "type": "quantitative", "title": null, "scale": {"domain": [2.4, 206.3], "nice": false, "zero": false}}, "y": {"field": "med", "type": "quantitative", "title": null, "axis": null, "scale": {"domain": [0.107, 2.393], "nice": false, "zero": false}}}},
{"data": {"name": "pf"}, "transform": [{"filter": "datum.p === 'b'"}], "mark": {"type": "line", "color": "#0000ff", "strokeWidth": 1.5, "strokeDash": [7, 5]},
 "encoding": {"x": {"field": "t", "type": "quantitative", "title": null, "scale": {"domain": [2.4, 206.3], "nice": false, "zero": false}}, "y": {"field": "lo", "type": "quantitative", "title": null, "axis": null, "scale": {"domain": [0.107, 2.393], "nice": false, "zero": false}}}},
{"data": {"name": "pf"}, "transform": [{"filter": "datum.p === 'b'"}], "mark": {"type": "line", "color": "#0000ff", "strokeWidth": 1.5, "strokeDash": [7, 5]},
 "encoding": {"x": {"field": "t", "type": "quantitative", "title": null, "scale": {"domain": [2.4, 206.3], "nice": false, "zero": false}}, "y": {"field": "hi", "type": "quantitative", "title": null, "axis": null, "scale": {"domain": [0.107, 2.393], "nice": false, "zero": false}}}},
{"data": {"name": "param"}, "mark": {"type": "rule", "color": "black", "strokeWidth": 1.3},
 "encoding": {"y": {"datum": 2.393, "type": "quantitative", "title": null, "scale": {"domain": [0.107, 2.393], "nice": false, "zero": false}, "axis": {"orient": "left", "values": [1, 2], "labels": false, "domain": false, "minExtent": 45, "maxExtent": 45, "title": null}}}}
]},
{"title": "(c)", "width": 1054, "height": 109,
"resolve": {"axis": {"y": "independent"}},
"layer": [
{"data": {"name": "mcmc"}, "mark": {"type": "area", "color": "#e6e6e6"},
 "encoding": {"x": {"field": "t", "type": "quantitative", "title": null, "scale": {"domain": [2.4, 206.3], "nice": false, "zero": false}, "axis": {"values": [10,20,30,40,50,60,70,80,90,100,110,120,130,140,150,160,170,180,190,200], "labelPadding": 12, "labelOverlap": false, "minExtent": 38, "maxExtent": 38, "title": null}},
  "y": {"field": "lo", "type": "quantitative", "title": null, "scale": {"domain": [0.107, 2.393], "nice": false, "zero": false}, "axis": {"orient": "left", "values": [0.5, 1.5], "format": ".1f", "labelAngle": 270, "labelAlign": "center", "labelBaseline": "bottom", "labelPadding": 16, "labelOverlap": false, "minExtent": 45, "maxExtent": 45, "title": null}},
  "y2": {"field": "hi"}}},
{"data": {"name": "param"}, "mark": {"type": "rule", "strokeWidth": 1.5},
 "encoding": {"y": {"field": "value", "type": "quantitative", "title": null, "axis": null, "scale": {"domain": [0.107, 2.393], "nice": false, "zero": false}},
  "color": {"datum": "Parameter", "type": "nominal", "scale": {"domain": ["Parameter", "MCMC Median", "MCMC 95%", "PF Median", "PF 95%"], "range": ["#ff0000", "#bebebe", "#cccccc", "#0000ff", "#0000ff"]}}}},
{"data": {"name": "mcmc"}, "mark": {"type": "line", "color": "#454545", "strokeWidth": 1.5},
 "encoding": {"x": {"field": "t", "type": "quantitative", "title": null, "scale": {"domain": [2.4, 206.3], "nice": false, "zero": false}}, "y": {"field": "med", "type": "quantitative", "title": null, "axis": null, "scale": {"domain": [0.107, 2.393], "nice": false, "zero": false}}}},
{"data": {"name": "pf"}, "transform": [{"filter": "datum.p === 'c'"}], "mark": {"type": "line", "color": "#0000ff", "strokeWidth": 1.8},
 "encoding": {"x": {"field": "t", "type": "quantitative", "title": null, "scale": {"domain": [2.4, 206.3], "nice": false, "zero": false}}, "y": {"field": "med", "type": "quantitative", "title": null, "axis": null, "scale": {"domain": [0.107, 2.393], "nice": false, "zero": false}}}},
{"data": {"name": "pf"}, "transform": [{"filter": "datum.p === 'c'"}], "mark": {"type": "line", "color": "#0000ff", "strokeWidth": 1.5, "strokeDash": [7, 5]},
 "encoding": {"x": {"field": "t", "type": "quantitative", "title": null, "scale": {"domain": [2.4, 206.3], "nice": false, "zero": false}}, "y": {"field": "lo", "type": "quantitative", "title": null, "axis": null, "scale": {"domain": [0.107, 2.393], "nice": false, "zero": false}}}},
{"data": {"name": "pf"}, "transform": [{"filter": "datum.p === 'c'"}], "mark": {"type": "line", "color": "#0000ff", "strokeWidth": 1.5, "strokeDash": [7, 5]},
 "encoding": {"x": {"field": "t", "type": "quantitative", "title": null, "scale": {"domain": [2.4, 206.3], "nice": false, "zero": false}}, "y": {"field": "hi", "type": "quantitative", "title": null, "axis": null, "scale": {"domain": [0.107, 2.393], "nice": false, "zero": false}}}},
{"data": {"name": "param"}, "mark": {"type": "rule", "color": "black", "strokeWidth": 1.3},
 "encoding": {"y": {"datum": 2.393, "type": "quantitative", "title": null, "scale": {"domain": [0.107, 2.393], "nice": false, "zero": false}, "axis": {"orient": "left", "values": [1, 2], "labels": false, "domain": false, "minExtent": 45, "maxExtent": 45, "title": null}}}}
]},
{"title": "(d)", "width": 1054, "height": 109,
"resolve": {"axis": {"y": "independent"}},
"layer": [
{"data": {"name": "mcmc"}, "mark": {"type": "area", "color": "#e6e6e6"},
 "encoding": {"x": {"field": "t", "type": "quantitative", "title": null, "scale": {"domain": [2.4, 206.3], "nice": false, "zero": false}, "axis": {"values": [10,20,30,40,50,60,70,80,90,100,110,120,130,140,150,160,170,180,190,200], "labelPadding": 12, "labelOverlap": false, "minExtent": 38, "maxExtent": 38, "title": null}},
  "y": {"field": "lo", "type": "quantitative", "title": null, "scale": {"domain": [0.107, 2.393], "nice": false, "zero": false}, "axis": {"orient": "left", "values": [0.5, 1.5], "format": ".1f", "labelAngle": 270, "labelAlign": "center", "labelBaseline": "bottom", "labelPadding": 16, "labelOverlap": false, "minExtent": 45, "maxExtent": 45, "title": null}},
  "y2": {"field": "hi"}}},
{"data": {"name": "param"}, "mark": {"type": "rule", "strokeWidth": 1.5},
 "encoding": {"y": {"field": "value", "type": "quantitative", "title": null, "axis": null, "scale": {"domain": [0.107, 2.393], "nice": false, "zero": false}},
  "color": {"datum": "Parameter", "type": "nominal", "scale": {"domain": ["Parameter", "MCMC Median", "MCMC 95%", "PF Median", "PF 95%"], "range": ["#ff0000", "#bebebe", "#cccccc", "#0000ff", "#0000ff"]}}}},
{"data": {"name": "mcmc"}, "mark": {"type": "line", "color": "#454545", "strokeWidth": 1.5},
 "encoding": {"x": {"field": "t", "type": "quantitative", "title": null, "scale": {"domain": [2.4, 206.3], "nice": false, "zero": false}}, "y": {"field": "med", "type": "quantitative", "title": null, "axis": null, "scale": {"domain": [0.107, 2.393], "nice": false, "zero": false}}}},
{"data": {"name": "pf"}, "transform": [{"filter": "datum.p === 'd'"}], "mark": {"type": "line", "color": "#0000ff", "strokeWidth": 1.8},
 "encoding": {"x": {"field": "t", "type": "quantitative", "title": null, "scale": {"domain": [2.4, 206.3], "nice": false, "zero": false}}, "y": {"field": "med", "type": "quantitative", "title": null, "axis": null, "scale": {"domain": [0.107, 2.393], "nice": false, "zero": false}}}},
{"data": {"name": "pf"}, "transform": [{"filter": "datum.p === 'd'"}], "mark": {"type": "line", "color": "#0000ff", "strokeWidth": 1.5, "strokeDash": [7, 5]},
 "encoding": {"x": {"field": "t", "type": "quantitative", "title": null, "scale": {"domain": [2.4, 206.3], "nice": false, "zero": false}}, "y": {"field": "lo", "type": "quantitative", "title": null, "axis": null, "scale": {"domain": [0.107, 2.393], "nice": false, "zero": false}}}},
{"data": {"name": "pf"}, "transform": [{"filter": "datum.p === 'd'"}], "mark": {"type": "line", "color": "#0000ff", "strokeWidth": 1.5, "strokeDash": [7, 5]},
 "encoding": {"x": {"field": "t", "type": "quantitative", "title": null, "scale": {"domain": [2.4, 206.3], "nice": false, "zero": false}}, "y": {"field": "hi", "type": "quantitative", "title": null, "axis": null, "scale": {"domain": [0.107, 2.393], "nice": false, "zero": false}}}},
{"data": {"name": "param"}, "mark": {"type": "rule", "color": "black", "strokeWidth": 1.3},
 "encoding": {"y": {"datum": 2.393, "type": "quantitative", "title": null, "scale": {"domain": [0.107, 2.393], "nice": false, "zero": false}, "axis": {"orient": "left", "values": [1, 2], "labels": false, "domain": false, "minExtent": 45, "maxExtent": 45, "title": null}}}}
]}
]
}
